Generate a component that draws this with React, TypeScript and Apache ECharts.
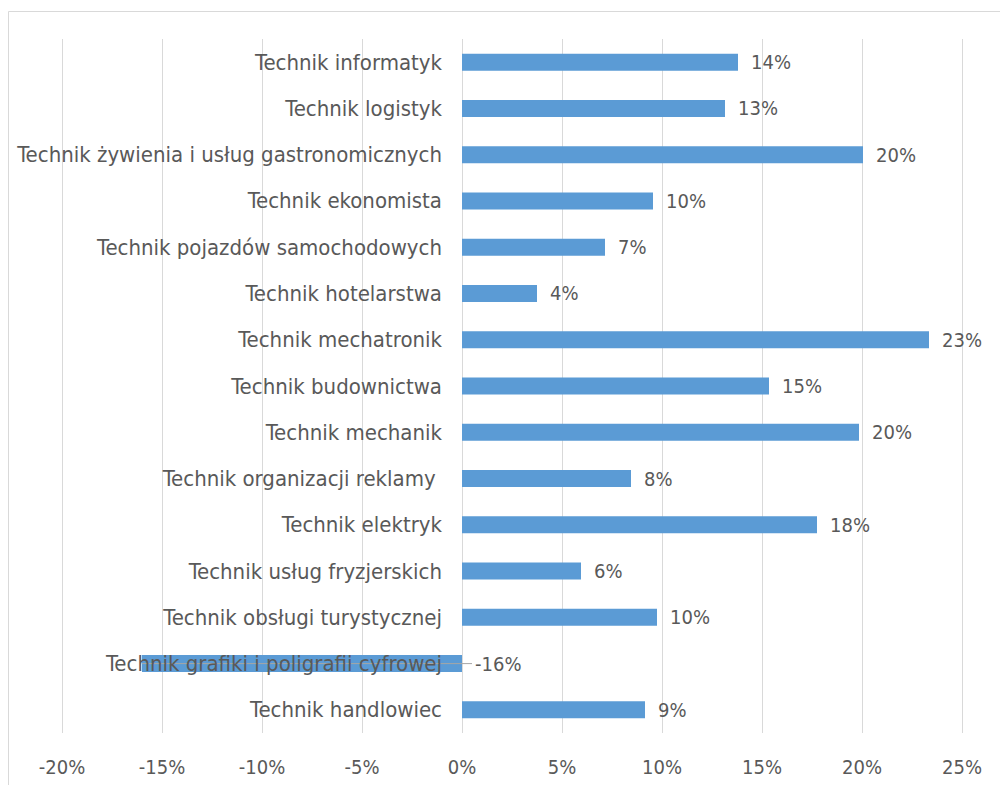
import React, { useEffect, useRef } from "react";
import * as echarts from "echarts";

const categories = [
  "Technik informatyk",
  "Technik logistyk",
  "Technik żywienia i usług gastronomicznych",
  "Technik ekonomista",
  "Technik pojazdów samochodowych",
  "Technik hotelarstwa",
  "Technik mechatronik",
  "Technik budownictwa",
  "Technik mechanik",
  "Technik organizacji reklamy ",
  "Technik elektryk",
  "Technik usług fryzjerskich",
  "Technik obsługi turystycznej",
  "Technik grafiki i poligrafii cyfrowej",
  "Technik handlowiec",
];

const values = [13.8, 13.15, 20.05, 9.55, 7.15, 3.75, 23.35, 15.35, 19.85, 8.45, 17.75, 5.95, 9.75, -16.0, 9.15];

const xMin = -20;
const xMax = 25;
const xStep = 5;

const FONT = "'Liberation Sans Narrow', 'DejaVu Sans Condensed', sans-serif";
const TEXT = "#595959";
const GRID = "#d9d9d9";

const GRID_LEFT = 62;
const GRID_RIGHT = 38;
const WIDTH = 1000;

export default function App() {
  const ref = useRef<HTMLDivElement>(null);
  useEffect(() => {
    if (!ref.current) return;
    const chart = echarts.init(ref.current, undefined, { renderer: "svg" });
    const negIdx = values.findIndex((v) => v < 0);
    const plotW = WIDTH - GRID_LEFT - GRID_RIGHT;
    const zeroOffset = -((0 - xMin) / (xMax - xMin)) * plotW;
    const leader =
      negIdx >= 0
        ? [
            [values[negIdx], categories[negIdx]],
            [0.5, categories[negIdx]],
          ]
        : [];
    chart.setOption({
      animation: false,
      backgroundColor: "#ffffff",
      textStyle: { fontFamily: FONT },
      graphic: [
        {
          type: "rect",
          shape: { x: 8.5, y: 11.5, width: 1000, height: 800 },
          style: { fill: "none", stroke: GRID, lineWidth: 1 },
          silent: true,
        },
      ],
      grid: {
        left: GRID_LEFT,
        right: GRID_RIGHT,
        top: 39,
        bottom: 52,
        containLabel: false,
        outerBoundsMode: "none",
      },
      xAxis: {
        type: "value",
        min: xMin,
        max: xMax,
        interval: xStep,
        axisLine: { show: false },
        axisTick: { show: false },
        splitLine: { show: true, lineStyle: { color: GRID, width: 1 } },
        axisLabel: {
          formatter: (v: number) => `${v}%`,
          color: TEXT,
          fontSize: 20,
          fontFamily: FONT,
          margin: 24,
        },
      },
      yAxis: {
        type: "category",
        data: categories,
        inverse: true,
        z: 5,
        position: "left",
        offset: zeroOffset,
        axisLine: { show: false, onZero: false },
        axisTick: { show: false },
        axisLabel: {
          color: TEXT,
          fontSize: 22,
          fontFamily: FONT,
          margin: 20,
        },
      },
      series: [
        {
          type: "bar",
          data: values,
          barWidth: 17,
          itemStyle: { color: "#5b9bd5" },
          label: {
            show: true,
            position: "right",
            distance: 13,
            color: TEXT,
            fontSize: 20,
            fontFamily: FONT,
            formatter: (p: any) => `${Math.round(p.value)}%`,
          },
        },
        {
          type: "line",
          data: leader,
          z: 4,
          silent: true,
          symbol: "none",
          showSymbol: false,
          label: { show: false },
          lineStyle: { color: "#a6a6a6", width: 1 },
        },
      ],
    });
    return () => chart.dispose();
  }, []);
  return (
    <div
      ref={ref}
      style={{ position: "fixed", left: 0, top: 0, width: 1000, height: 785 }}
    />
  );
}
